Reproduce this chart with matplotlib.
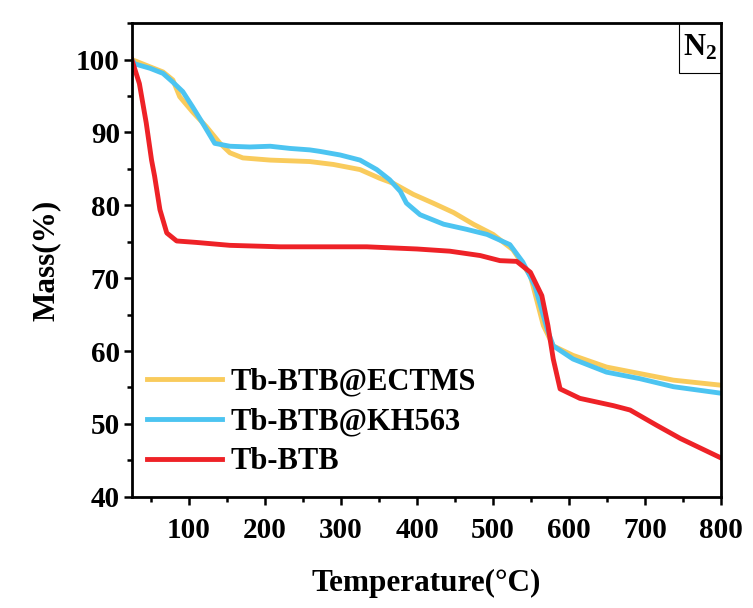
import matplotlib
matplotlib.use("Agg")
from matplotlib import pyplot as plt
from matplotlib.patches import Rectangle
from matplotlib.ticker import MultipleLocator

plt.rcParams['font.family'] = ['Liberation Serif', 'DejaVu Serif']
plt.rcParams['font.weight'] = 'bold'
plt.rcParams['mathtext.fontset'] = 'custom'
plt.rcParams['mathtext.rm'] = 'Liberation Serif:bold'
plt.rcParams['mathtext.it'] = 'Liberation Serif:bold'
plt.rcParams['mathtext.bf'] = 'Liberation Serif:bold'

# TGA curves (temperature in C, mass in %)
ectms_t = [25, 49, 66, 79, 88, 105, 123, 141, 154, 171, 207, 259, 290, 325, 351, 369,
           395, 421, 448, 474, 500, 526, 549, 566, 579, 605, 649, 693, 737, 800]
ectms_m = [100, 99.0, 98.3, 97.2, 94.9, 92.8, 90.8, 88.5, 87.2, 86.5, 86.2, 86.0, 85.6,
           84.9, 83.7, 83.0, 81.5, 80.3, 79.0, 77.4, 76.0, 73.9, 70.3, 63.5, 60.7, 59.4,
           57.8, 56.9, 56.0, 55.3]

kh563_t = [25, 29, 49, 66, 79, 92, 105, 118, 134, 154, 180, 207, 233, 259, 272, 299,
           325, 347, 364, 378, 386, 404, 435, 465, 492, 522, 539, 555, 571, 579, 605,
           649, 693, 737, 800]
kh563_m = [100, 99.4, 98.8, 98.1, 96.9, 95.6, 93.5, 91.3, 88.5, 88.1, 88.0, 88.1, 87.8,
           87.6, 87.4, 86.9, 86.2, 84.9, 83.5, 81.9, 80.3, 78.7, 77.4, 76.7, 76.0, 74.6,
           72.2, 68.9, 63.0, 60.7, 58.9, 57.1, 56.2, 55.1, 54.2]

btb_t = [25, 35, 44, 51, 55, 62, 71, 84, 110, 154, 220, 285, 334, 400, 443, 483, 509,
         531, 549, 564, 572, 579, 588, 614, 658, 680, 715, 746, 794, 800]
btb_m = [100, 96.7, 91.3, 86.2, 84.0, 79.4, 76.2, 75.1, 74.9, 74.5, 74.3, 74.3, 74.3,
         74.0, 73.7, 73.1, 72.4, 72.3, 70.8, 67.6, 63.5, 58.9, 54.8, 53.5, 52.5, 51.9,
         49.8, 48.0, 45.6, 45.3]

labels = ['Tb-BTB@ECTMS', 'Tb-BTB@KH563', 'Tb-BTB']
colors = ['#F9CB5C', '#4CC4F1', '#EE2227']

fig = plt.figure(figsize=(7.53, 6.08), dpi=100)
ax = fig.add_axes([0.175, 0.183, 0.783, 0.779])

ax.plot(ectms_t, ectms_m, color=colors[0], lw=3.5, label=labels[0])
ax.plot(kh563_t, kh563_m, color=colors[1], lw=3.5, label=labels[1])
ax.plot(btb_t, btb_m, color=colors[2], lw=3.5, label=labels[2])

ax.set_xlim(25, 800)
ax.set_ylim(40, 105)
ax.xaxis.set_major_locator(MultipleLocator(100))
ax.xaxis.set_minor_locator(MultipleLocator(50))
ax.yaxis.set_major_locator(MultipleLocator(10))
ax.yaxis.set_minor_locator(MultipleLocator(5))
ax.tick_params(which='major', direction='out', length=5.5, width=1.8, labelsize=21)
ax.tick_params(which='minor', direction='out', length=3.5, width=1.8)
ax.tick_params(axis='x', which='major', pad=9)
ax.tick_params(axis='y', which='major', pad=3)
for s in ax.spines.values():
    s.set_linewidth(2)

ax.set_xlabel('Temperature(\u00b0C)', fontsize=22.5, fontweight='bold', labelpad=18)
ax.set_ylabel('Mass(%)', fontsize=22.5, fontweight='bold', labelpad=11)

ax.legend(loc='lower left', bbox_to_anchor=(-0.02, -0.015), frameon=False, fontsize=22,
          handlelength=2.45, labelspacing=0.35, handletextpad=0.28)

# small framed N2 tag in the top right corner
bw, bh = 0.0713, 0.105
ax.add_patch(Rectangle((1 - bw, 1 - bh), bw, bh, transform=ax.transAxes,
                       fill=False, edgecolor='black', lw=0.8))
ax.text(1 - bw / 2, 1 - bh / 2, r'N$_2$', transform=ax.transAxes, ha='center',
        va='center', fontsize=22, fontweight='bold')

fig.savefig('out.png', dpi=100)
